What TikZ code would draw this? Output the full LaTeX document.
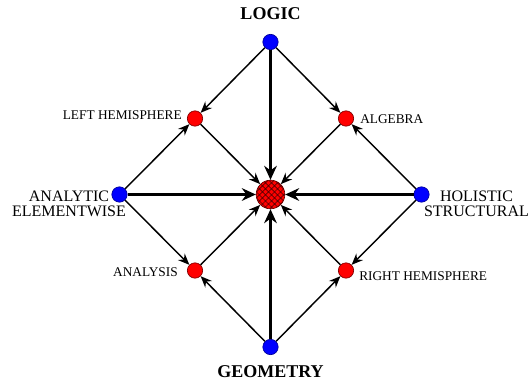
\documentclass[tikz,border=0pt]{standalone}
\usepackage{fontspec}
\setmainfont{Liberation Serif}
\usetikzlibrary{arrows.meta,patterns.meta}
\begin{document}
\begin{tikzpicture}[x=0.75pt,y=-0.75pt,
  bluenode/.style={circle,draw=blue!60!black,fill=blue,minimum size=11.5pt,inner sep=0pt,line width=0.5pt},
  rednode/.style={circle,draw=red!50!black,fill=red,minimum size=11.5pt,inner sep=0pt,line width=0.5pt},
  centernode/.style={circle,draw=red!40!black,preaction={fill=red},pattern={Hatch[angle=45,distance=3.2pt,line width=0.5pt]},pattern color=red!35!black,minimum size=21.5pt,inner sep=0pt,line width=0.5pt},
  thinarr/.style={line width=1.1pt,-{Stealth[length=8.5pt,width=7pt,inset=2.8pt]}},
  thickarr/.style={line width=2.3pt,-{Stealth[length=10.5pt,width=9.5pt,inset=3.5pt]}},
  biglab/.style={font=\bfseries\fontsize{13.5}{14}\selectfont,inner sep=0pt},
  midlab/.style={font=\fontsize{12}{11.5}\selectfont,align=center,inner sep=0pt},
  smalllab/.style={font=\fontsize{10}{11}\selectfont,inner sep=0pt}]
\useasboundingbox (0,0) rectangle (528,382);
\node[bluenode] (L) at (270.5,42) {};
\node[bluenode] (G) at (270.5,347) {};
\node[bluenode] (A) at (119.5,194.5) {};
\node[bluenode] (H) at (421.5,194.5) {};
\node[rednode] (LH) at (195,118.5) {};
\node[rednode] (AL) at (346,118.5) {};
\node[rednode] (AN) at (195,270.5) {};
\node[rednode] (RH) at (346,270.5) {};
\node[centernode] (C) at (270.5,194.5) {};
\node[biglab] (tL) at (270.5,14) {LOGIC};
\node[biglab] (tG) at (270.5,372) {GEOMETRY};
\node[midlab] (tA) at (69,203.5) {ANALYTIC\\ELEMENTWISE};
\node[midlab] (tH) at (476.5,203.5) {HOLISTIC\\STRUCTURAL};
\node[smalllab,anchor=east] (tLH) at (182,115) {LEFT HEMISPHERE};
\node[smalllab,anchor=west] (tAL) at (360,119) {ALGEBRA};
\node[smalllab,anchor=east] (tAN) at (178,272) {ANALYSIS};
\node[smalllab,anchor=west] (tRH) at (359,276) {RIGHT HEMISPHERE};
\draw[thinarr] (L) -- (LH);
\draw[thinarr] (L) -- (AL);
\draw[thinarr] (A) -- (LH);
\draw[thinarr] (A) -- (AN);
\draw[thinarr] (H) -- (AL);
\draw[thinarr] (H) -- (RH);
\draw[thinarr] (G) -- (AN);
\draw[thinarr] (G) -- (RH);
\draw[thinarr] (LH) -- (C);
\draw[thinarr] (AL) -- (C);
\draw[thinarr] (AN) -- (C);
\draw[thinarr] (RH) -- (C);
\draw[thickarr] (L) -- (C);
\draw[thickarr] (G) -- (C);
\draw[thickarr] (A) -- (C);
\draw[thickarr] (H) -- (C);
\end{tikzpicture}
\end{document}
